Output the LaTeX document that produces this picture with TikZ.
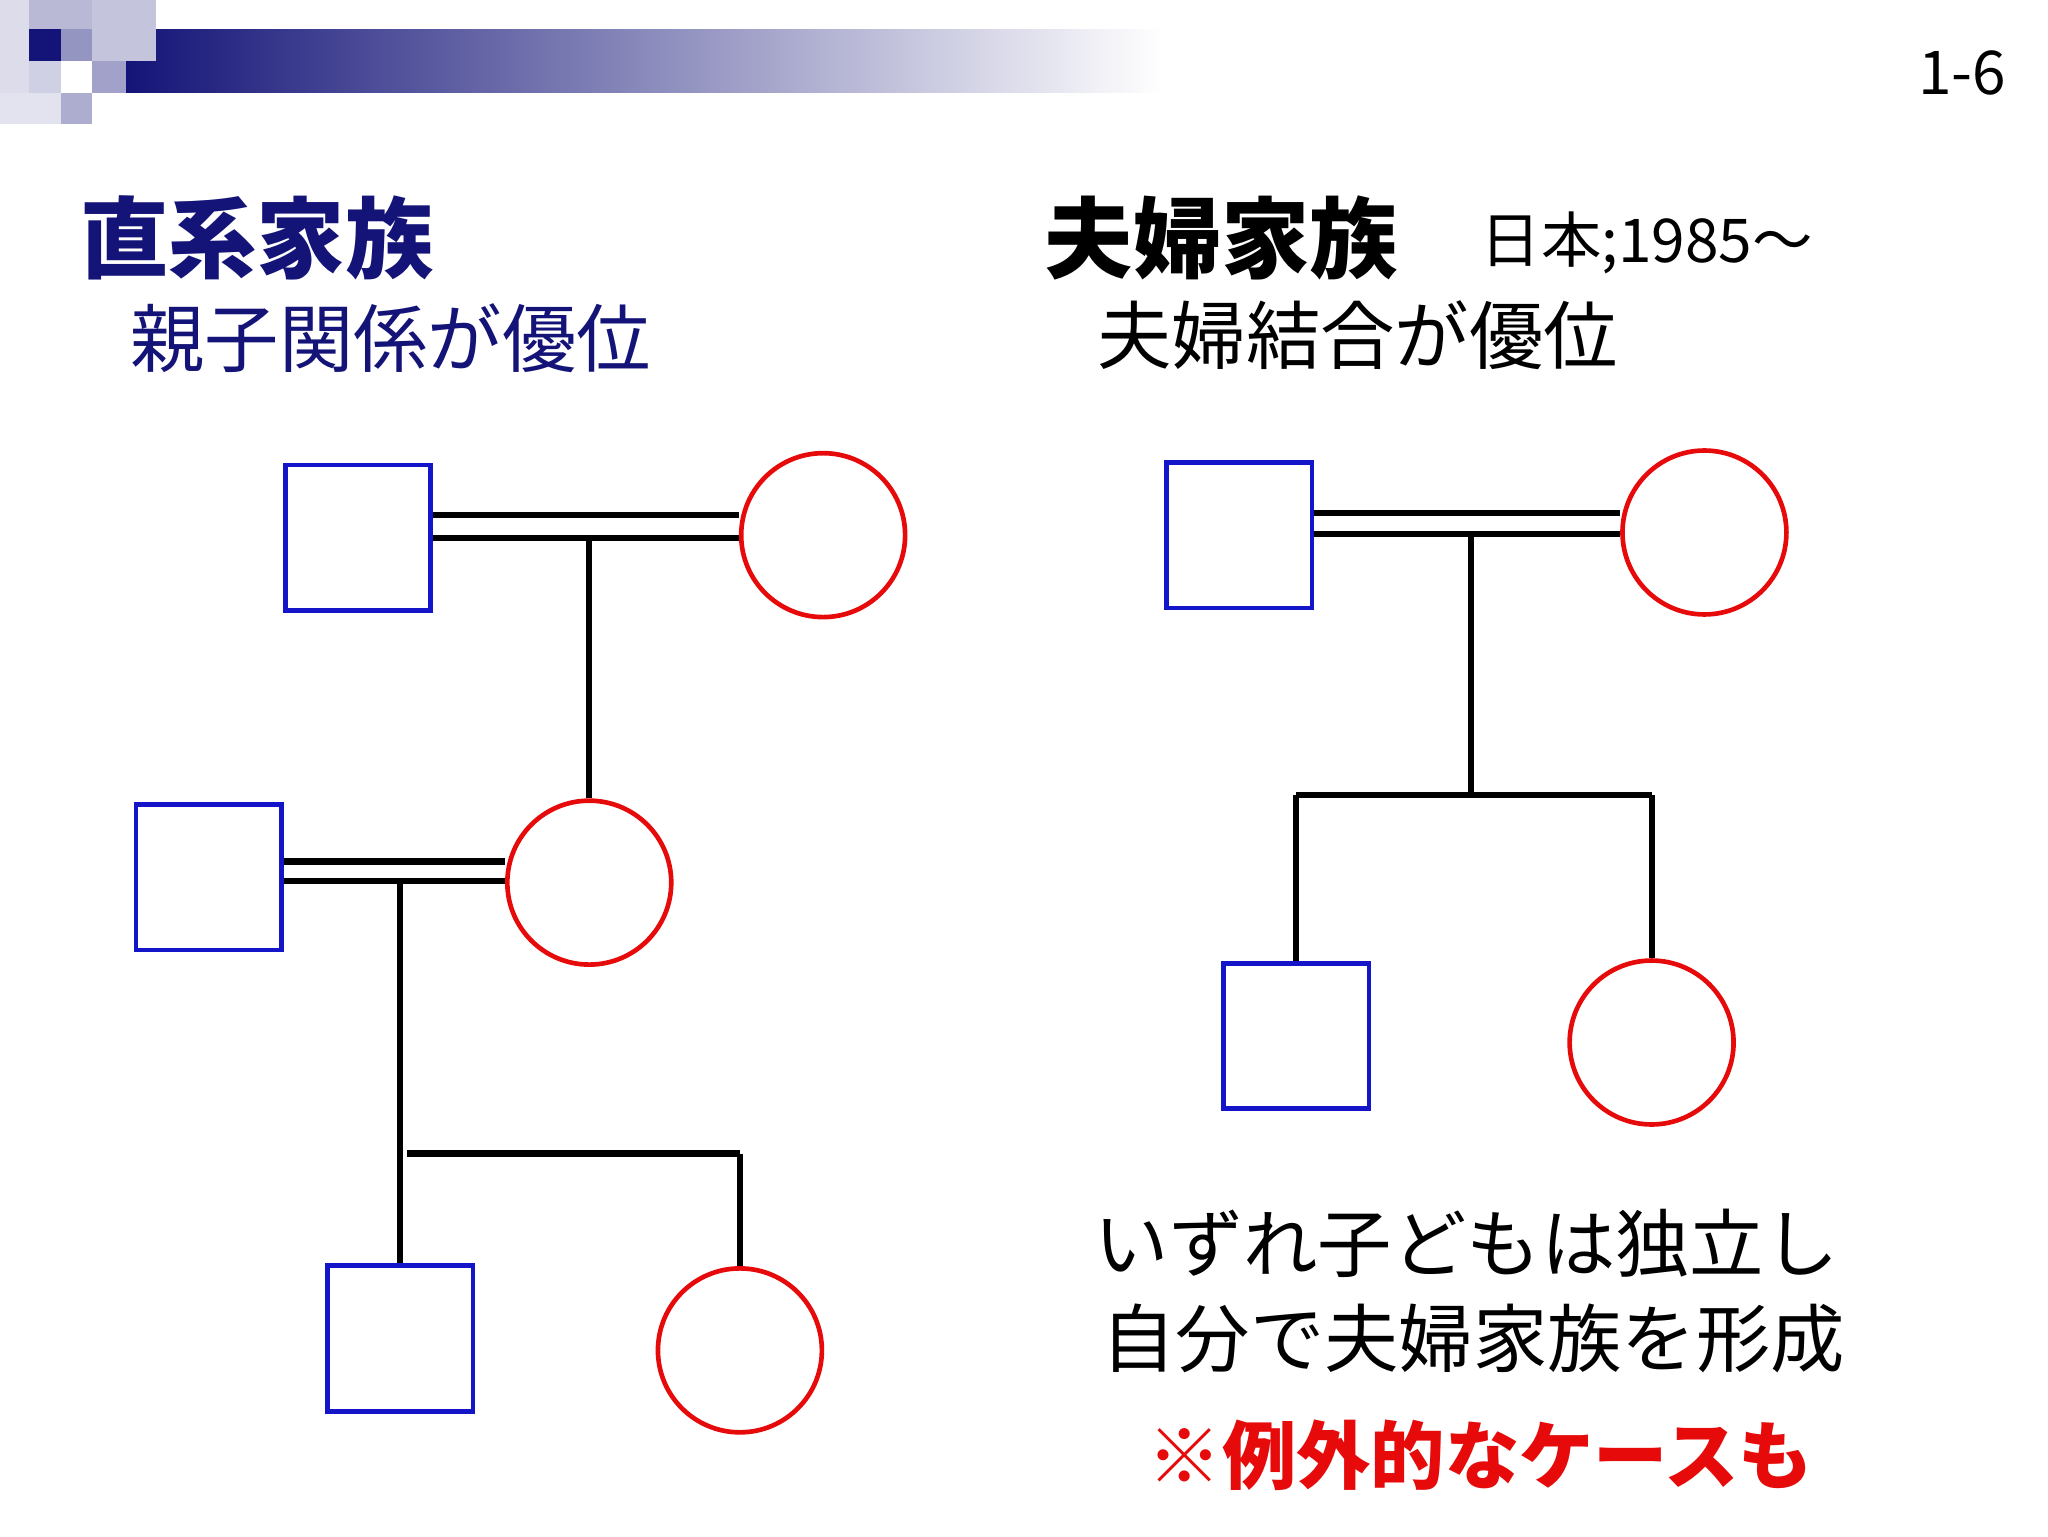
\documentclass[tikz,border=0pt]{standalone}
\usepackage{fontspec}
\setmainfont{Noto Sans CJK JP}
\setsansfont{Noto Sans CJK JP}
\definecolor{navy}{RGB}{20,20,120}
\definecolor{sqblue}{RGB}{20,20,200}
\definecolor{cred}{RGB}{230,10,10}
\begin{document}
\begin{tikzpicture}[x=0.01cm,y=-0.01cm,
  male/.style={draw=sqblue,line width=1pt,minimum size=1.1cm,inner sep=0,fill=white},
  female/.style={draw=cred,line width=1pt,circle,minimum size=1.24cm,inner sep=0},
  link/.style={line width=1.3pt,black},
  txt/.style={anchor=west,inner sep=0}]
\useasboundingbox (0,0) rectangle (1550,1162.5);
% header decoration
\shade[left color=navy,right color=white] (95,22) rectangle (880,70);
\fill[navy!15] (0,0) rectangle (22,70);
\fill[navy!30] (22,0) rectangle (70,22);
\fill[navy] (22,22) rectangle (46,46);
\fill[navy!45] (46,22) rectangle (70,46);
\fill[navy!25] (70,0) rectangle (118,46);
\fill[navy!40] (70,46) rectangle (95,70);
\fill[navy!20] (22,46) rectangle (46,70);
\fill[navy!35] (46,70) rectangle (70,94);
\fill[navy!12] (0,70) rectangle (46,94);
\node (num) at (1485,55) {\fontsize{13}{16}\selectfont 1-6};
% titles
\node[txt,text=navy] (t1) at (60,180) {\fontsize{19}{22}\selectfont\bfseries 直系家族};
\node[txt,text=navy] (s1) at (98,256) {\fontsize{16}{20}\selectfont 親子関係が優位};
\node[txt] (t2) at (790,180) {\fontsize{19}{22}\selectfont\bfseries 夫婦家族};
\node[txt] (t2b) at (1120,184) {\fontsize{13}{16}\selectfont 日本;1985～};
\node[txt] (s2) at (830,254) {\fontsize{16}{20}\selectfont 夫婦結合が優位};
% left family
\node[male] (m1) at (271,407) {};
\node[female] (f1) at (623,405) {};
\node[male] (m2) at (158,664) {};
\node[female] (f2) at (446,668) {};
\node[male] (m3) at (303,1013) {};
\node[female] (f3) at (560,1022) {};
\draw[link] (m1.east|-0,390) -- (f1.west|-0,390);
\draw[link] (m1.east|-0,407) -- (f1.west|-0,407);
\coordinate (j1) at (446,407);
\draw[link] (j1) -- (f2.north);
\draw[link] (m2.east|-0,652) -- (f2.west|-0,652);
\draw[link] (m2.east|-0,667) -- (f2.west|-0,667);
\coordinate (j2) at (303,667);
\draw[link] (j2) -- (m3.north);
\coordinate (h1) at (308,873);
\coordinate (h2) at (560,873);
\draw[link] (h1) -- (h2);
\draw[link] (h2) -- (f3.north);
% right family
\node[male] (m4) at (938,405) {};
\node[female] (f4) at (1290,403) {};
\node[male] (m5) at (981,784) {};
\node[female] (f5) at (1250,789) {};
\draw[link] (m4.east|-0,388) -- (f4.west|-0,388);
\draw[link] (m4.east|-0,404) -- (f4.west|-0,404);
\coordinate (j3) at (1113,404);
\coordinate (j4) at (1113,602);
\coordinate (h3) at (981,602);
\coordinate (h4) at (1250,602);
\draw[link] (j3) -- (j4);
\draw[link] (h3) -- (h4);
\draw[link] (h3) -- (m5.north);
\draw[link] (h4) -- (f5.north);
% bottom text
\node[txt] (b1) at (828,941) {\fontsize{16}{20}\selectfont いずれ子どもは独立し};
\node[txt] (b2) at (833,1013) {\fontsize{16}{20}\selectfont 自分で夫婦家族を形成};
\node[txt,text=cred] (b3) at (868,1101) {\fontsize{16}{20}\selectfont\bfseries ※例外的なケースも};
\end{tikzpicture}
\end{document}
